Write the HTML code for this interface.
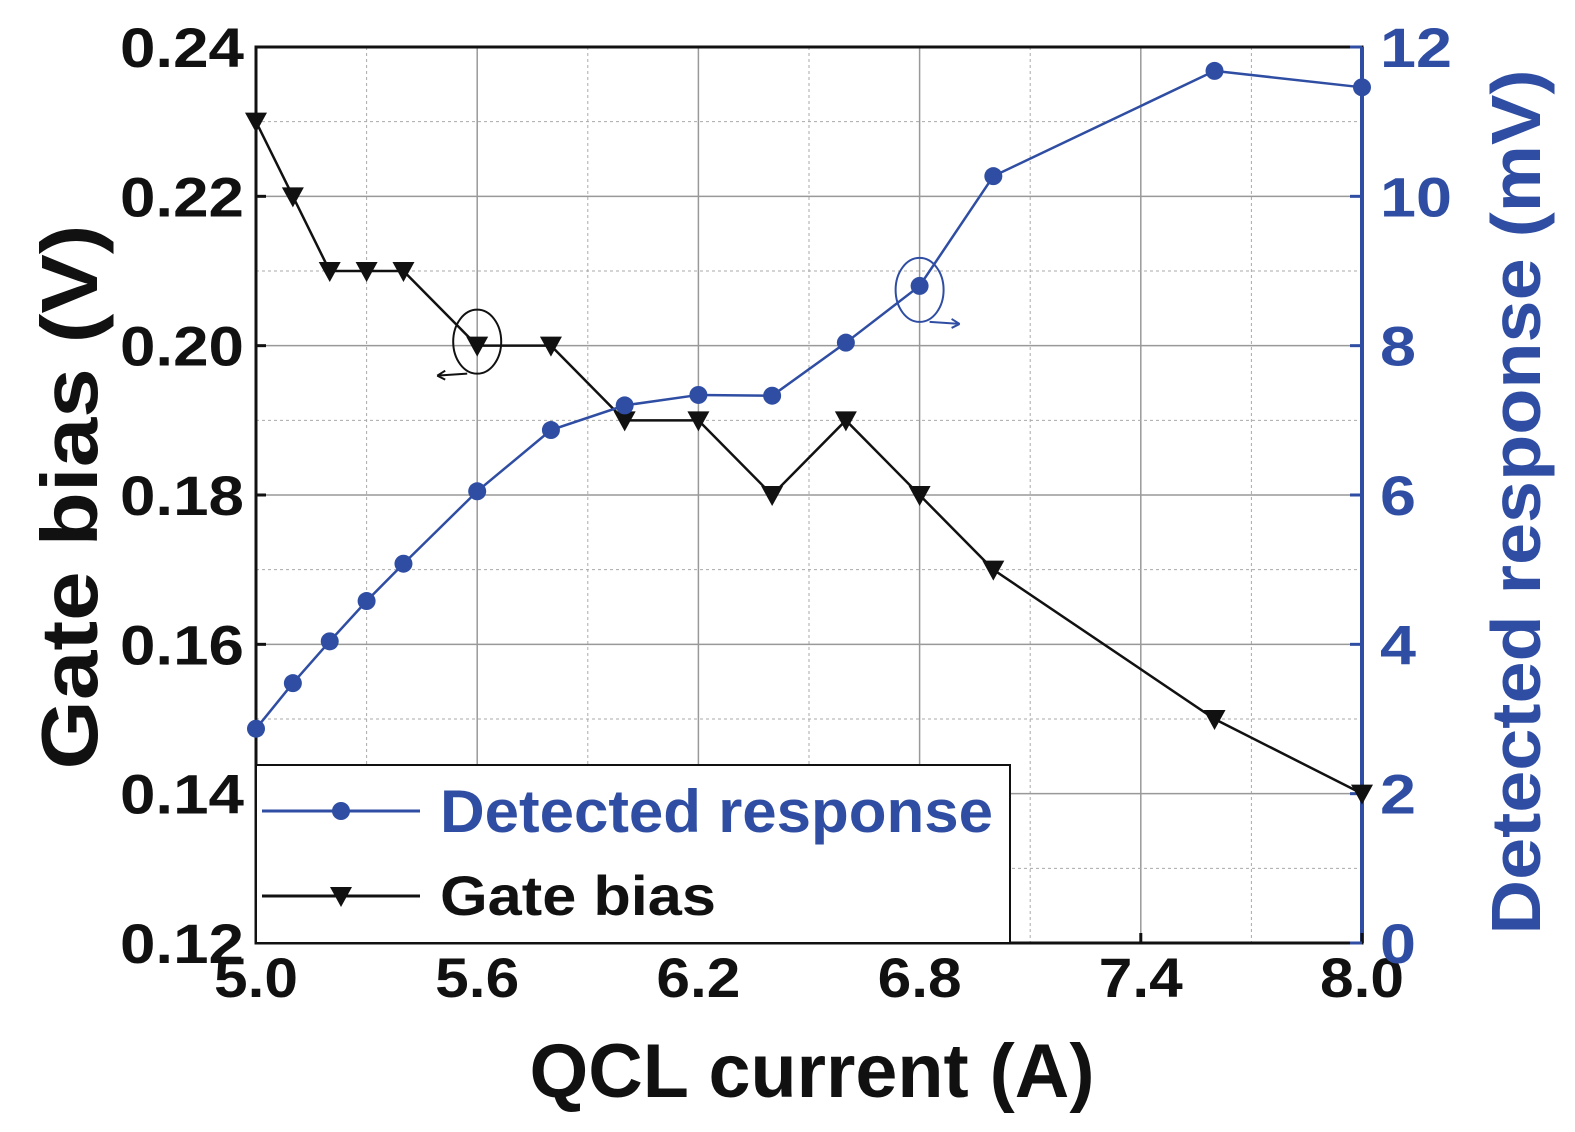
<!DOCTYPE html>
<html><head><meta charset="utf-8"><style>
body{margin:0;background:#fff}
svg text{font-family:"Liberation Sans",sans-serif;font-weight:bold}
</style></head><body>
<svg id="chart" width="1575" height="1127" viewBox="0 0 1575 1127" xmlns="http://www.w3.org/2000/svg"></svg>
<script>
const xVals=[5.0,5.1,5.2,5.3,5.4,5.6,5.8,6.0,6.2,6.4,6.6,6.8,7.0,7.6,8.0];
const gateBias=[0.23,0.22,0.21,0.21,0.21,0.20,0.20,0.19,0.19,0.18,0.19,0.18,0.17,0.15,0.14];
const response=[2.87,3.48,4.04,4.58,5.08,6.05,6.87,7.2,7.34,7.33,8.04,8.8,10.27,11.68,11.46];
const xTicks=[5.0,5.6,6.2,6.8,7.4,8.0];
const yLeftTicks=[0.12,0.14,0.16,0.18,0.20,0.22,0.24];
const yRightTicks=[0,2,4,6,8,10,12];

const L=256,R=1362,T=47,B=943;
const sx=v=>L+(v-5)/3*(R-L);
const syl=v=>B-(v-0.12)/0.12*(B-T);
const syr=v=>B-v/12*(B-T);
const svg=document.getElementById('chart');
const NS='http://www.w3.org/2000/svg';
function mk(tag,attrs,parent){const e=document.createElementNS(NS,tag);for(const k in attrs)e.setAttribute(k,attrs[k]);(parent||svg).appendChild(e);return e;}
const blue='#2f4ea3';

for(let i=0;i<=10;i++){const v=5+i*0.3;const x=sx(v);
 const g=mk('line',{x1:x,x2:x,y1:T,y2:B,stroke:i%2?'#aaa':'#999','stroke-width':i%2?1:1.5,'stroke-dasharray':i%2?'3,3':'none'});
 }
for(let i=0;i<=12;i++){const v=0.12+i*0.01;const y=syl(v);
 const g=mk('line',{x1:L,x2:R,y1:y,y2:y,stroke:i%2?'#aaa':'#999','stroke-width':i%2?1:1.5,'stroke-dasharray':i%2?'3,3':'none'});
 }

let a=mk('rect',{x:L,y:T,width:R-L,height:B-T,fill:'none',stroke:'#111','stroke-width':3});

a=mk('line',{x1:R,x2:R,y1:T,y2:B,stroke:blue,'stroke-width':4});


xTicks.forEach(v=>{const x=sx(v);
 mk('line',{x1:x,x2:x,y1:B,y2:B-10,stroke:'#111','stroke-width':3});
 const t=mk('text',{x:x,y:B+54,'text-anchor':'middle','font-size':56,fill:'#111',textLength:84,lengthAdjust:'spacingAndGlyphs'});t.textContent=v.toFixed(1);
 });
yLeftTicks.forEach(v=>{const y=syl(v);
 mk('line',{x1:L,x2:L+10,y1:y,y2:y,stroke:'#111','stroke-width':3});
 const t=mk('text',{x:L-12,y:y+20,'text-anchor':'end','font-size':56,fill:'#111',textLength:124,lengthAdjust:'spacingAndGlyphs'});t.textContent=v.toFixed(2);
 });
yRightTicks.forEach(v=>{const y=syr(v);
 mk('line',{x1:R,x2:R-12,y1:y,y2:y,stroke:blue,'stroke-width':3});
 const s=String(v);
 const t=mk('text',{x:R+18,y:y+20,'font-size':56,fill:blue,textLength:s.length*36,lengthAdjust:'spacingAndGlyphs'});t.textContent=s;
 });

let t=mk('text',{x:812,y:1097,'text-anchor':'middle','font-size':76,fill:'#111',textLength:565,lengthAdjust:'spacingAndGlyphs'});t.textContent='QCL current (A)';

t=mk('text',{x:0,y:0,'text-anchor':'middle','font-size':80,fill:'#111',textLength:545,lengthAdjust:'spacingAndGlyphs',transform:'translate(97,497) rotate(-90)'});t.textContent='Gate bias (V)';

t=mk('text',{x:0,y:0,'text-anchor':'middle','font-size':70,fill:blue,textLength:865,lengthAdjust:'spacingAndGlyphs',transform:'translate(1540,502) rotate(-90)'});t.textContent='Detected response (mV)';


let p=mk('polyline',{points:xVals.map((x,i)=>sx(x)+','+syl(gateBias[i])).join(' '),fill:'none',stroke:'#111','stroke-width':2.5});

xVals.forEach((x,i)=>{const cx=sx(x),cy=syl(gateBias[i]);
 const m=mk('polygon',{points:`${cx-11},${cy-9} ${cx+11},${cy-9} ${cx},${cy+11}`,fill:'#111'});
 });
p=mk('polyline',{points:xVals.map((x,i)=>sx(x)+','+syr(response[i])).join(' '),fill:'none',stroke:blue,'stroke-width':2.5});

xVals.forEach((x,i)=>{const m=mk('circle',{cx:sx(x),cy:syr(response[i]),r:9,fill:blue});
 });

a=mk('ellipse',{cx:sx(5.6),cy:syl(0.20)-4,rx:24,ry:32,fill:'none',stroke:'#111','stroke-width':2});

mk('path',{d:`M${sx(5.6)-10},${syl(0.2)+28} L${sx(5.6)-40},${syl(0.2)+30} M${sx(5.6)-40},${syl(0.2)+30} l8,-5 M${sx(5.6)-40},${syl(0.2)+30} l8,4`,stroke:'#111','stroke-width':2,fill:'none'});
a=mk('ellipse',{cx:sx(6.8),cy:syr(8.8)+4,rx:24,ry:32,fill:'none',stroke:blue,'stroke-width':2});

mk('path',{d:`M${sx(6.8)+10},${syr(8.8)+36} L${sx(6.8)+40},${syr(8.8)+38} l-8,-5 M${sx(6.8)+40},${syr(8.8)+38} l-8,4`,stroke:blue,'stroke-width':2,fill:'none'});

const lg=mk('g',{});

mk('rect',{x:L,y:765,width:754,height:178,fill:'#fff',stroke:'#111','stroke-width':2},lg);
let e=mk('g',{},lg);
mk('line',{x1:262,x2:420,y1:811,y2:811,stroke:blue,'stroke-width':3},e);
mk('circle',{cx:341,cy:811,r:9,fill:blue},e);
t=mk('text',{x:440,y:832,'font-size':60,fill:blue,textLength:553,lengthAdjust:'spacingAndGlyphs'},e);t.textContent='Detected response';
e=mk('g',{},lg);
mk('line',{x1:262,x2:420,y1:896,y2:896,stroke:'#111','stroke-width':3},e);
mk('polygon',{points:'330,887 352,887 341,907',fill:'#111'},e);
t=mk('text',{x:440,y:915,'font-size':56,fill:'#111',textLength:276,lengthAdjust:'spacingAndGlyphs'},e);t.textContent='Gate bias';
</script>
</body></html>
